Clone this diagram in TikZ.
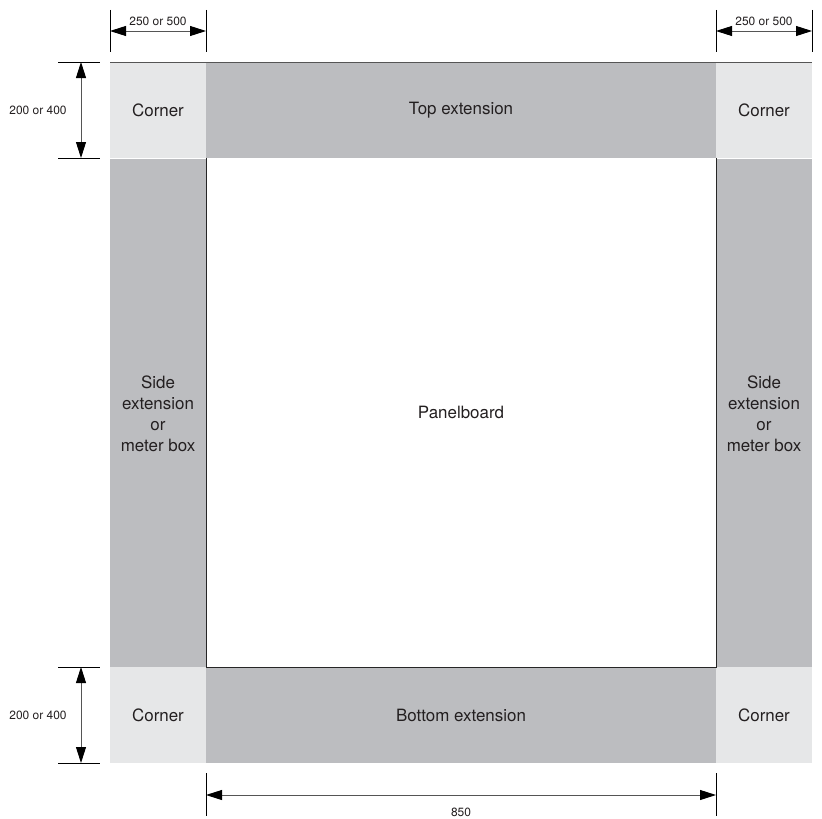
\documentclass[tikz,border=0pt]{standalone}
\usepackage{fontspec}
\setmainfont{TeX Gyre Heros}
\usetikzlibrary{arrows.meta}
\definecolor{cornerc}{HTML}{E6E7E8}
\definecolor{extc}{HTML}{BCBDC0}
\definecolor{txtc}{HTML}{231F20}
\definecolor{dimc}{HTML}{555555}
\tikzset{
  cornerbox/.style={fill=cornerc, draw=none, minimum width=96bp, minimum height=96bp, inner sep=0, outer sep=0, text=txtc, font=\fontsize{17}{20}\selectfont},
  hext/.style={fill=extc, draw=none, minimum width=510bp, minimum height=96bp, inner sep=0, outer sep=0, text=txtc, font=\fontsize{17}{20}\selectfont},
  vext/.style={fill=extc, draw=none, minimum width=96bp, minimum height=509bp, inner sep=0, outer sep=0, text=txtc, align=center, font=\fontsize{17}{21}\selectfont},
  panel/.style={fill=white, draw=none, minimum width=510bp, minimum height=509bp, inner sep=0, outer sep=0, text=txtc, font=\fontsize{17}{20}\selectfont},
  extline/.style={draw=black, line width=0.8bp},
  dimtip/.tip={Triangle[length=16bp,width=10bp,fill=black,color=black]},
  dimline/.style={draw=dimc, line width=0.9bp, dimtip-dimtip},
  dimlabel/.style={text=txtc, font=\fontsize{12}{14}\selectfont, inner sep=1bp},
}
\begin{document}
\begin{tikzpicture}[x=1bp,y=-1bp]
\useasboundingbox (0,0) rectangle (822,819);
% boxes
\node[cornerbox] (ctl) at (158,110) {Corner};
\node[hext] (top) at (461,110) {Top extension};
\node[cornerbox] (ctr) at (764,110) {Corner};
\node[vext] (sl) at (158,414) {Side\\extension\\or\\meter box};
\node[panel] (pan) at (461,412.5) {Panelboard};
\node[vext] (sr) at (764,414) {Side\\extension\\or\\meter box};
\node[cornerbox] (cbl) at (158,715) {Corner};
\node[hext] (bot) at (461,715) {Bottom extension};
\node[cornerbox] (cbr) at (764,715) {Corner};
% outlines
\draw[draw=dimc, line width=0.7bp] (ctl.north west) -- (ctr.north east);
\draw[draw=black!85, line width=0.9bp] (pan.north west) -- (pan.south west) -- (pan.south east) -- (pan.north east);
% top-left dimension
\coordinate (a1) at (110,10); \coordinate (a2) at (110,52);
\coordinate (b1) at (206,10); \coordinate (b2) at (206,52);
\draw[extline] (a1) -- (a2);
\draw[extline] (b1) -- (b2);
\coordinate (aa) at (110,31); \coordinate (bb) at (206,31);
\draw[dimline] (aa) -- (bb);
\node[dimlabel] (t1) at (158,21) {250 or 500};
% top-right dimension
\coordinate (c1) at (716,10); \coordinate (c2) at (716,52);
\coordinate (d1) at (812,10); \coordinate (d2) at (812,52);
\draw[extline] (c1) -- (c2);
\draw[extline] (d1) -- (d2);
\coordinate (cc) at (716,31); \coordinate (dd) at (812,31);
\draw[dimline] (cc) -- (dd);
\node[dimlabel] (t2) at (764,21) {250 or 500};
% left top dimension
\coordinate (e1) at (58,62); \coordinate (e2) at (100,62);
\coordinate (f1) at (58,158); \coordinate (f2) at (100,158);
\draw[extline] (e1) -- (e2);
\draw[extline] (f1) -- (f2);
\coordinate (ee) at (81,62); \coordinate (ff) at (81,158);
\draw[dimline] (ee) -- (ff);
\node[dimlabel] (l1) at (38,110) {200 or 400};
% left bottom dimension
\coordinate (g1) at (58,667); \coordinate (g2) at (100,667);
\coordinate (h1) at (58,763); \coordinate (h2) at (100,763);
\draw[extline] (g1) -- (g2);
\draw[extline] (h1) -- (h2);
\coordinate (gg) at (81,667); \coordinate (hh) at (81,763);
\draw[dimline] (gg) -- (hh);
\node[dimlabel] (l2) at (38,715) {200 or 400};
% bottom dimension
\coordinate (i1) at (206,773); \coordinate (i2) at (206,816);
\coordinate (j1) at (716,773); \coordinate (j2) at (716,816);
\draw[extline] (i1) -- (i2);
\draw[extline] (j1) -- (j2);
\coordinate (ii) at (206,795); \coordinate (jj) at (716,795);
\draw[dimline] (ii) -- (jj);
\node[dimlabel] (l3) at (461,812) {850};
\end{tikzpicture}
\end{document}
